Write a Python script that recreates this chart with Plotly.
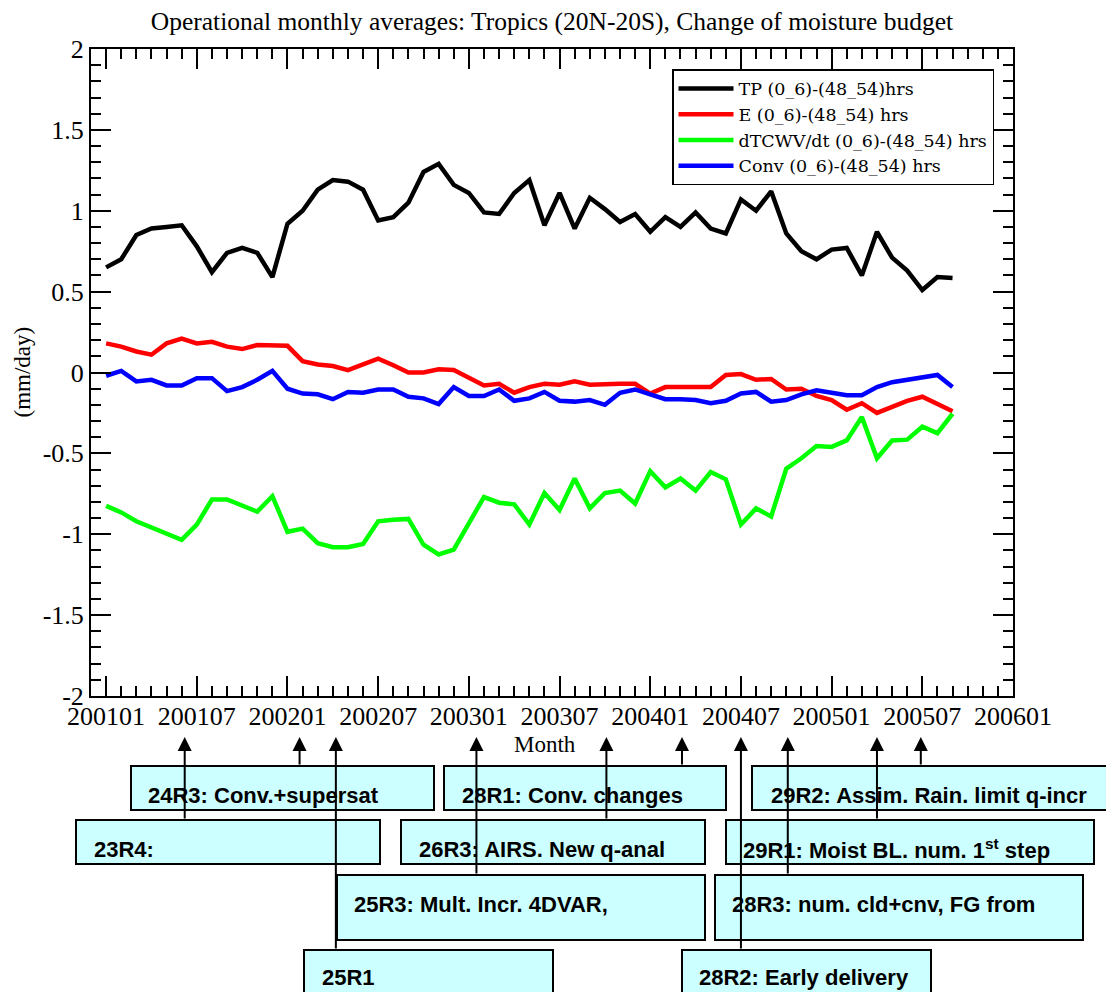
import plotly.graph_objects as go

# ---------------- data ----------------
# month index: 0 = 2001-01
months = list(range(57))
tp = [0.65, 0.70, 0.85, 0.89, 0.90, 0.91, 0.78, 0.62, 0.74, 0.77, 0.74, 0.59,
      0.92, 1.00, 1.13, 1.19, 1.18, 1.13, 0.94, 0.96, 1.05, 1.24, 1.29, 1.16,
      1.11, 0.99, 0.98, 1.11, 1.19, 0.91, 1.11, 0.89, 1.08, 1.01, 0.93, 0.98,
      0.87, 0.96, 0.90, 0.99, 0.89, 0.86, 1.07, 1.00, 1.12, 0.86, 0.75, 0.70,
      0.76, 0.77, 0.60, 0.87, 0.71, 0.63, 0.51, 0.59, 0.585]
evap = [0.18, 0.16, 0.13, 0.11, 0.18, 0.21, 0.18, 0.19, 0.16, 0.145, 0.17, 0.165,
        0.165, 0.07, 0.05, 0.04, 0.015, 0.05, 0.085, 0.045, 0.0, 0.0, 0.02, 0.015,
        -0.035, -0.08, -0.07, -0.125, -0.09, -0.07, -0.075, -0.055, -0.075, -0.07, -0.07, -0.07,
        -0.13, -0.09, -0.09, -0.09, -0.09, -0.015, -0.01, -0.045, -0.04, -0.105, -0.10, -0.145,
        -0.17, -0.23, -0.19, -0.25, -0.215, -0.175, -0.15, -0.195, -0.24]
dtcwv = [-0.825, -0.865, -0.92, -0.96, -0.995, -1.035, -0.94, -0.785, -0.785, -0.82, -0.86, -0.765,
         -0.985, -0.965, -1.055, -1.08, -1.08, -1.06, -0.92, -0.91, -0.905, -1.065, -1.125, -1.095,
         -0.935, -0.77, -0.805, -0.815, -0.94, -0.745, -0.85, -0.655, -0.84, -0.745, -0.73, -0.81,
         -0.61, -0.71, -0.655, -0.73, -0.615, -0.66, -0.94, -0.84, -0.89, -0.595, -0.53, -0.455,
         -0.46, -0.42, -0.275, -0.53, -0.42, -0.415, -0.335, -0.375, -0.255]
conv = [-0.02, 0.01, -0.055, -0.045, -0.08, -0.08, -0.035, -0.035, -0.115, -0.09, -0.045, 0.01,
        -0.10, -0.13, -0.135, -0.165, -0.12, -0.125, -0.105, -0.105, -0.15, -0.16, -0.195, -0.09,
        -0.145, -0.145, -0.105, -0.175, -0.16, -0.12, -0.175, -0.18, -0.17, -0.20, -0.125, -0.105,
        -0.135, -0.165, -0.165, -0.17, -0.19, -0.175, -0.13, -0.12, -0.18, -0.17, -0.135, -0.11,
        -0.125, -0.14, -0.14, -0.09, -0.06, -0.045, -0.03, -0.015, -0.09]

series_names = ["TP (0_6)-(48_54)hrs", "E (0_6)-(48_54) hrs",
                "dTCWV/dt (0_6)-(48_54) hrs", "Conv (0_6)-(48_54) hrs"]
series_colors = ["#000000", "#ff0000", "#00ff00", "#0000ff"]

x_tick_labels = ["200101", "200107", "200201", "200207", "200301", "200307",
                 "200401", "200407", "200501", "200507", "200601"]
x_tick_positions = [6 * k for k in range(len(x_tick_labels))]
y_tick_values = [-2, -1.5, -1, -0.5, 0, 0.5, 1, 1.5, 2]
y_tick_labels = ["-2", "-1.5", "-1", "-0.5", "0", "0.5", "1", "1.5", "2"]

# model cycle releases (month index of arrow) and label text
release_month = [5.2, 12.8, 15.2, 24.5, 33.1, 38.1, 42.0, 45.1, 51.0, 53.9]
release_text = ["23R4:", "24R3: Conv.+supersat", "25R1",
                "25R3: Mult. Incr. 4DVAR,", "26R3: AIRS. New q-anal",
                "28R1: Conv. changes", "28R2: Early delivery",
                "28R3: num. cld+cnv, FG from", "29R1: Moist BL. num. 1<sup>st</sup> step",
                "29R2: Assim. Rain. limit q-incr"]

# ---------------- layout helpers (page pixel -> paper) ----------------
OFF = 8                      # browser body margin
W, H = 1114, 992
L, R, T, B = 91, 1013, 49, 696   # plot area in page pixels


def px(X):
    return (X - L) / (R - L)


def py(Y):
    return (B - Y) / (B - T)


SERIF = "Liberation Serif, Times New Roman, serif"
WSERIF = "DejaVu Serif, serif"
SANS = "Liberation Sans, Arial, sans-serif"

fig = go.Figure()
for name, col, vals in zip(series_names, series_colors, [tp, evap, dtcwv, conv]):
    fig.add_trace(go.Scatter(x=months, y=vals, mode="lines", name=name,
                             line=dict(color=col, width=4.5)))

# boxes: (x0, x1, y0, y1, text_x, text_y) in page pixels, one per release
box_geom = [
    (76, 380, 820, 864, 92, 849),     # 23R4
    (131, 434, 766, 810, 146, 795),   # 24R3
    (304, 553, 950, 1010, 320, 978),  # 25R1
    (337, 705, 875, 940, 352, 904),   # 25R3
    (401, 705, 820, 864, 417, 849),   # 26R3
    (444, 726, 766, 810, 460, 795),   # 28R1
    (682, 931, 950, 1010, 697, 978),  # 28R2
    (715, 1083, 875, 940, 730, 904),  # 28R3
    (726, 1094, 820, 864, 741, 849),  # 29R1
    (752, 1140, 766, 810, 769, 795),  # 29R2
]
arrow_tip = 737

shapes = []
annotations = []
for (x0, x1, y0, y1, tx, ty), txt in zip(box_geom, release_text):
    shapes.append(dict(type="rect", xref="paper", yref="paper",
                       x0=px(x0), x1=px(x1), y0=py(y0), y1=py(y1),
                       fillcolor="#ccffff", line=dict(color="#000000", width=2),
                       layer="above"))
    annotations.append(dict(xref="paper", yref="paper", x=px(tx), y=py(ty),
                            xanchor="left", yanchor="middle", showarrow=False,
                            text="<b>%s</b>" % txt,
                            font=dict(family=SANS, size=22, color="#000000")))

for m, (x0, x1, y0, y1, tx, ty) in zip(release_month, box_geom):
    annotations.append(dict(xref="x", yref="paper", x=m, y=py(arrow_tip),
                            text="", showarrow=True, ax=0, ay=y0 - arrow_tip,
                            axref="pixel", ayref="pixel",
                            arrowhead=2, arrowsize=1.4, arrowwidth=2,
                            arrowcolor="#000000", standoff=0, startstandoff=0))

# axis titles
annotations.append(dict(xref="paper", yref="paper", x=px(22), y=0.5,
                        xanchor="center", yanchor="middle",
                        text="(mm/day)", textangle=-90, showarrow=False,
                        font=dict(family=SERIF, size=23, color="#000000")))
annotations.append(dict(xref="paper", yref="paper", x=px(545), y=py(744),
                        xanchor="center", yanchor="middle",
                        text="Month", showarrow=False,
                        font=dict(family=SERIF, size=23, color="#000000")))

fig.update_layout(
    width=W, height=H,
    margin=dict(l=L - OFF, r=W - (R - OFF), t=T - OFF, b=H - (B - OFF)),
    paper_bgcolor="white", plot_bgcolor="white",
    title=dict(text="Operational monthly averages: Tropics (20N-20S), Change of moisture budget",
               xref="paper", x=px(552), xanchor="center", yref="container",
               y=1 - (21 - OFF) / H, yanchor="middle",
               font=dict(family=SERIF, size=25.5, color="#000000")),
    xaxis=dict(range=[-1, 60], tickmode="array", tickvals=x_tick_positions,
               ticktext=x_tick_labels, ticks="inside", ticklen=20, tickwidth=2,
               tickcolor="#000000", showline=True, linecolor="#000000",
               linewidth=2, mirror="ticks", showgrid=False, zeroline=False,
               ticklabelstandoff=-4,
               tickfont=dict(family=SERIF, size=26, color="#000000"),
               minor=dict(tickmode="linear", tick0=0, dtick=1, ticks="inside",
                          ticklen=10, tickwidth=2, tickcolor="#000000")),
    yaxis=dict(range=[-2, 2], tickmode="array", tickvals=y_tick_values,
               ticktext=y_tick_labels,
               ticks="inside", ticklen=20, tickwidth=2, tickcolor="#000000",
               showline=True, linecolor="#000000", linewidth=2, mirror="ticks",
               showgrid=False, zeroline=False,
               tickfont=dict(family=SERIF, size=26, color="#000000"),
               minor=dict(tickmode="linear", tick0=0, dtick=0.1, ticks="inside",
                          ticklen=10, tickwidth=2, tickcolor="#000000")),
    legend=dict(x=px(672), y=py(69), xanchor="left", yanchor="top",
                bgcolor="white", bordercolor="#000000", borderwidth=1.5,
                font=dict(family=WSERIF, size=17.5, color="#000000"),
                itemwidth=55, tracegroupgap=0),
    shapes=shapes,
    annotations=annotations,
)

fig.write_html("out.html")
